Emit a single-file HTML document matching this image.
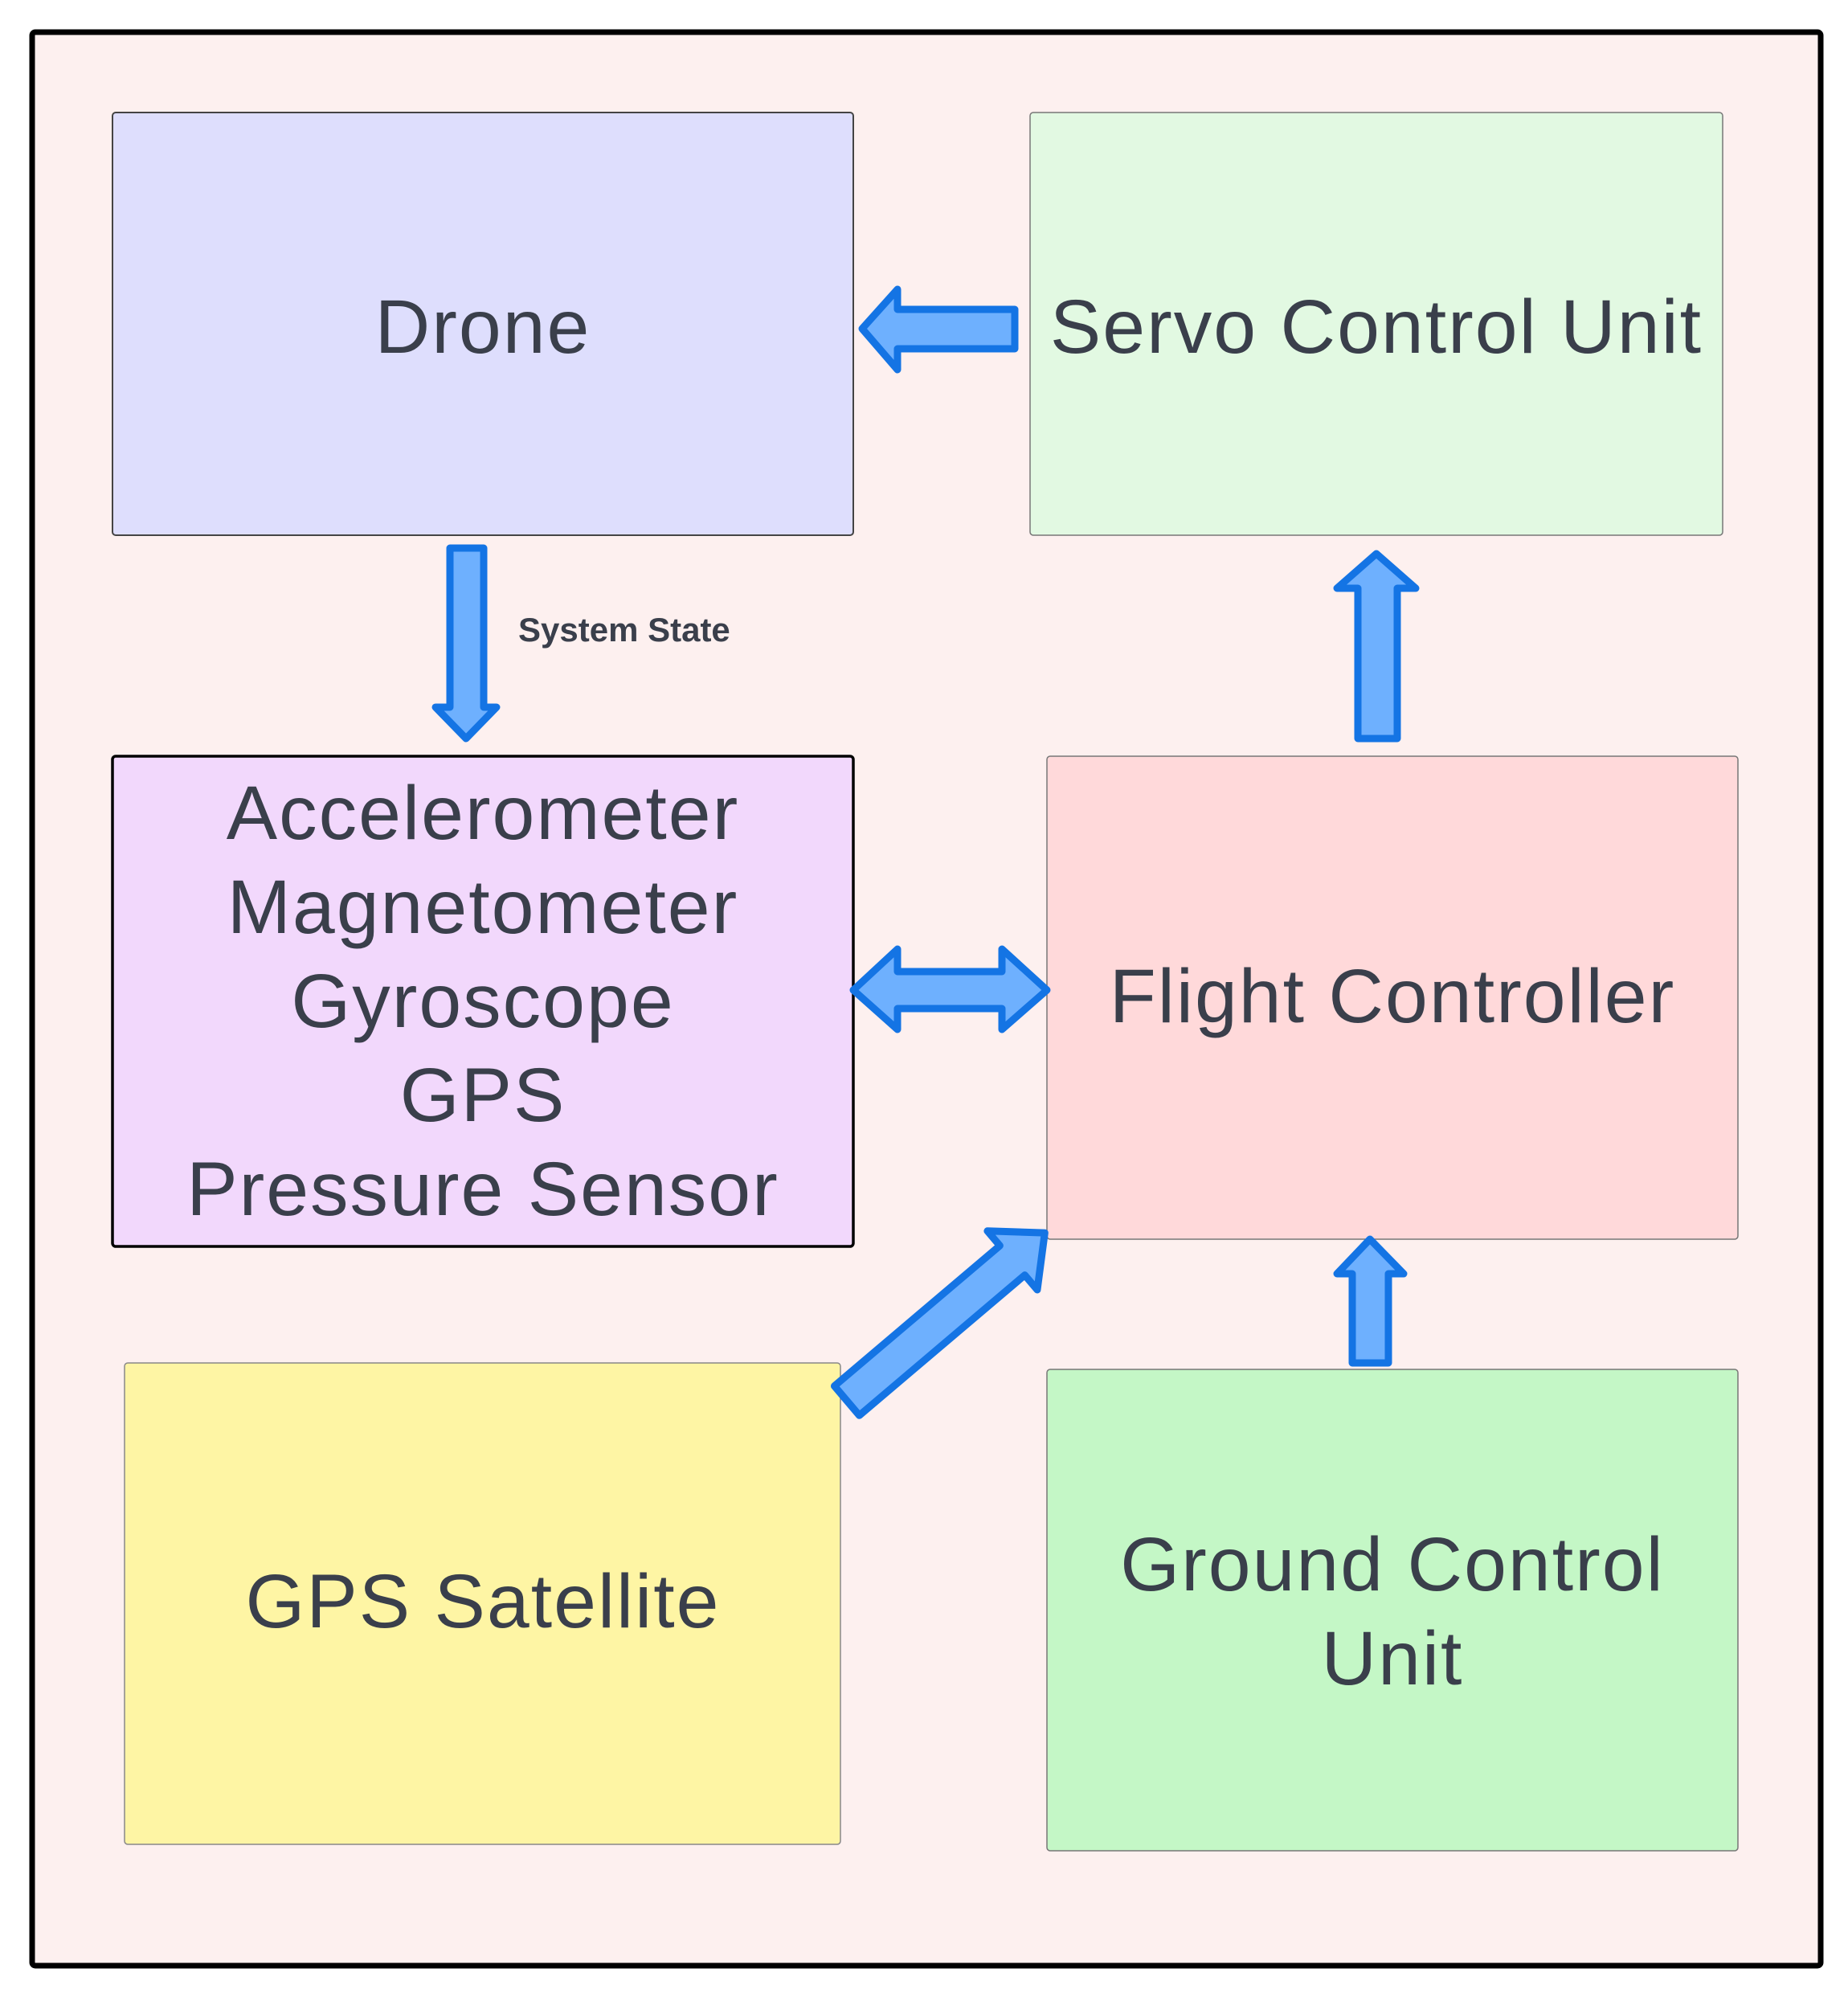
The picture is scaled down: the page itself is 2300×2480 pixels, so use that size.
<!DOCTYPE html>
<html><head><meta charset="utf-8"><style>
html,body{margin:0;padding:0;background:#fff;}
svg{display:block;}
text{font-family:"Liberation Sans",sans-serif;fill:#3a3f4b;}
</style></head><body>
<svg width="2300" height="2480" viewBox="0 0 2300 2480" xmlns="http://www.w3.org/2000/svg">
<rect x="40" y="40" width="2226" height="2406" fill="#fdf0ef" stroke="#000" stroke-width="7" rx="4"/>
<rect x="140" y="140" width="922" height="526" fill="#dedefd" stroke="#444" stroke-width="2" rx="4"/>
<rect x="1282" y="140" width="862" height="526" fill="#e2f9e2" stroke="#777" stroke-width="1.5" rx="4"/>
<rect x="140" y="941" width="922" height="610" fill="#f2d8fc" stroke="#000" stroke-width="3.5" rx="4"/>
<rect x="1303" y="941" width="860" height="601" fill="#ffd9da" stroke="#777" stroke-width="1.5" rx="4"/>
<rect x="155" y="1696" width="891" height="599" fill="#fef5a4" stroke="#888" stroke-width="1.5" rx="4"/>
<rect x="1303" y="1704" width="860" height="599" fill="#c4f7c6" stroke="#777" stroke-width="1.5" rx="4"/>

<g font-size="95" text-anchor="middle" letter-spacing="2">
<text x="601" y="439">Drone</text>
<text x="1713" y="439">Servo Control Unit</text>
<text x="601" y="1044">Accelerometer</text>
<text x="601" y="1161">Magnetometer</text>
<text x="601" y="1278">Gyroscope</text>
<text x="601" y="1395">GPS</text>
<text x="601" y="1512">Pressure Sensor</text>
<text x="1733" y="1272">Flight Controller</text>
<text x="601" y="2025">GPS Satellite</text>
<text x="1733" y="1979">Ground Control</text>
<text x="1733" y="2096">Unit</text>
</g>
<text x="645" y="798" font-size="42" font-weight="bold">System State</text>

<g fill="#6eb0fe" stroke="#1474e4" stroke-width="9" stroke-linejoin="round">
<polygon points="1073,409 1117,360 1117,385 1263,385 1263,434 1117,434 1117,460"/>
<polygon points="560,682 602,682 602,880 618,880 580,919 542,880 560,880"/>
<polygon points="1713,689 1762,732 1739,732 1739,919 1690,919 1690,732 1664,732"/>
<polygon points="1062,1232 1117,1181 1117,1209 1247,1209 1247,1181 1303,1232 1247,1281 1247,1255 1117,1255 1117,1281"/>
<polygon points="1705,1542 1747,1585 1728,1585 1728,1696 1683,1696 1683,1585 1664,1585"/>
<g transform="translate(1054,1743) rotate(-40.3)">
<polygon points="0,-24 270,-24 270,-48 323,0 270,48 270,24 0,24"/>
</g>
</g>
</svg>
</body></html>
